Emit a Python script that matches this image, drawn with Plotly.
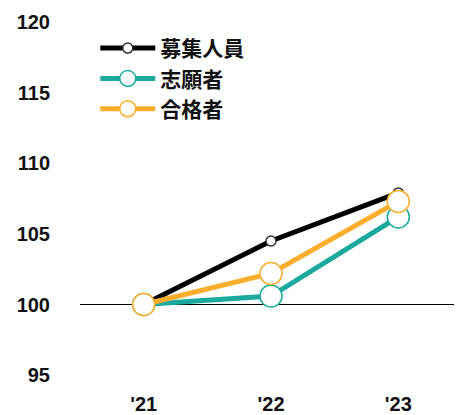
import plotly.graph_objects as go

years = ["'21", "'22", "'23"]
boshu = [100, 104.5, 107.9]      # 募集人員
shigan = [100, 100.6, 106.2]     # 志願者
gokaku = [100, 102.2, 107.3]     # 合格者
y_ticks = [95, 100, 105, 110, 115, 120]

FONT = "Liberation Sans, Noto Sans CJK JP, sans-serif"

fig = go.Figure()

series = [
    ("募集人員", boshu, "#000000", "#333333", 10),
    ("志願者", shigan, "#1aa99c", "#1aa99c", 22),
    ("合格者", gokaku, "#fbad2b", "#fbad2b", 22),
]
for name, vals, color, edge, msize in series:
    fig.add_trace(go.Scatter(
        x=list(range(len(years))), y=vals, name=name,
        mode="lines+markers",
        line=dict(color=color, width=5),
        marker=dict(size=msize, color="white", line=dict(color=edge, width=1.5)),
        cliponaxis=False,
    ))

# baseline at 100
fig.add_shape(type="line", xref="paper", x0=0, x1=1, yref="y", y0=100, y1=100,
              line=dict(color="black", width=1.2), layer="below")

# page body has an 8px margin, so the figure is drawn 8px smaller
fig.update_layout(
    width=454, height=407,
    margin=dict(l=72, r=0, t=7, b=30),
    plot_bgcolor="white", paper_bgcolor="white",
    font=dict(family=FONT, size=20, color="#111111", weight="bold"),
    showlegend=True,
    legend=dict(x=0.04, y=0.965, xanchor="left", yanchor="top",
                bgcolor="rgba(0,0,0,0)", tracegroupgap=0, itemwidth=55,
                font=dict(family="Noto Sans CJK JP", size=21, weight="bold")),
    xaxis=dict(range=[-0.5, 2.5], tickvals=list(range(len(years))), ticktext=years,
               showgrid=False, zeroline=False, showline=False, automargin=False,
               ticks="outside", ticklen=1, tickcolor="rgba(0,0,0,0)"),
    yaxis=dict(range=[94.3, 120.5], tickvals=y_ticks,
               showgrid=False, zeroline=False, showline=False, automargin=False,
               ticks="outside", ticklen=25, tickcolor="rgba(0,0,0,0)"),
)

fig.write_html("out.html")
